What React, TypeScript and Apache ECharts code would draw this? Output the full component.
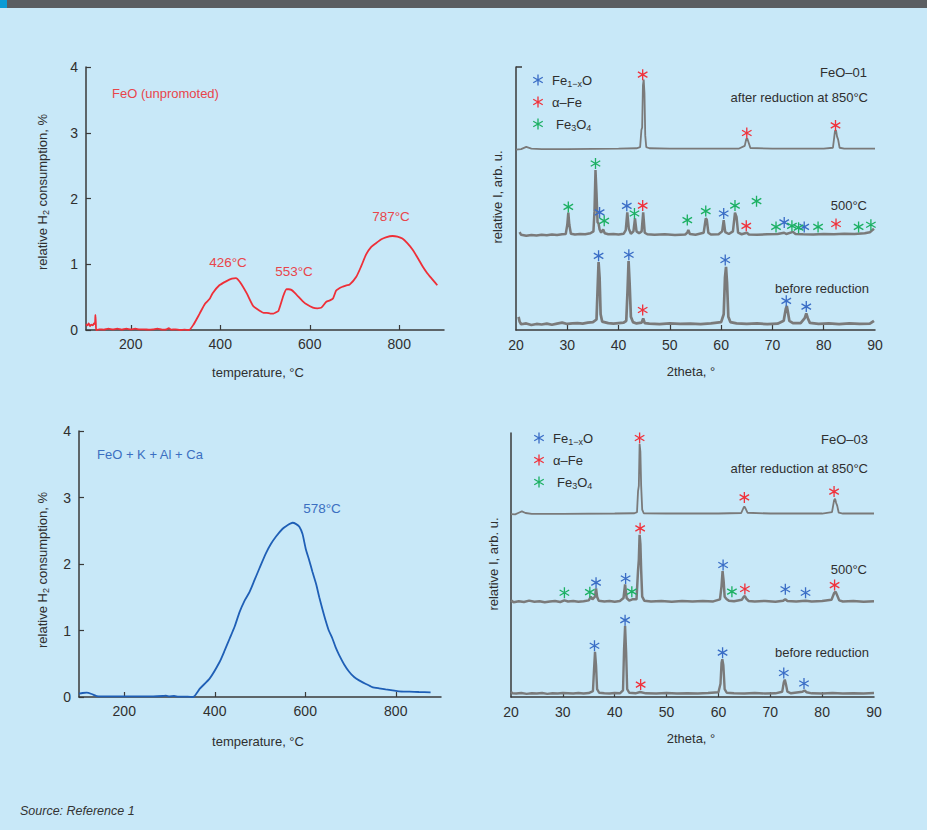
import React, { useEffect, useRef } from "react";
import * as echarts from "echarts";

// ---------- data ----------
const tprTicksX = [200, 400, 600, 800];
const xrdTicksX = [30, 40, 50, 60, 70, 80];

// TPR, relative H2 consumption (%), unpromoted FeO
const tprUnpromoted: [number, number][] = [
  [100, 0.09], [103, 0.07], [106, 0.1], [109, 0.06], [112, 0.08], [115, 0.07], [118, 0.1], [120, 0.09],
  [121, 0.23], [122, 0.1], [123, 0.0], [130, 0.01], [140, 0.005], [150, 0.02], [160, 0.01], [170, 0.02],
  [180, 0.005], [190, 0.02], [200, 0.01], [210, 0.02], [220, 0.01], [230, 0.01], [240, 0.005], [250, 0.01],
  [260, 0.02], [270, 0.005], [280, 0.01], [285, 0.03], [290, 0.005], [300, 0.01], [310, 0.0], [320, 0.005],
  [330, 0.0], [340, 0.08], [354, 0.25], [366, 0.4], [376, 0.47], [383, 0.56], [398, 0.68], [413, 0.74],
  [426, 0.78], [435, 0.79], [444, 0.73], [459, 0.56], [474, 0.36], [489, 0.29], [497, 0.26], [504, 0.26],
  [512, 0.25], [519, 0.25], [525, 0.27], [530, 0.29], [541, 0.52], [548, 0.62], [553, 0.62], [559, 0.61],
  [566, 0.57], [574, 0.51], [584, 0.44], [593, 0.39], [607, 0.34], [617, 0.33], [626, 0.34], [637, 0.43],
  [645, 0.45], [652, 0.48], [659, 0.6], [667, 0.64], [674, 0.66], [682, 0.68], [689, 0.69], [704, 0.81],
  [715, 0.97], [726, 1.15], [737, 1.26], [748, 1.32], [760, 1.38], [770, 1.41], [785, 1.43], [796, 1.42],
  [807, 1.39], [818, 1.32], [830, 1.22], [841, 1.1], [852, 0.97], [863, 0.86], [874, 0.77], [885, 0.68],
];

// TPR, FeO + K + Al + Ca
const tprPromoted: [number, number][] = [
  [100, 0.05], [108, 0.06], [117, 0.065], [128, 0.045], [139, 0.015], [150, 0.01], [190, 0.01], [230, 0.01],
  [264, 0.01], [285, 0.015], [292, 0.02], [300, 0.01], [310, 0.015], [320, 0.005], [340, 0.005], [352, 0.0],
  [367, 0.125], [389, 0.28], [411, 0.53], [422, 0.7], [433, 0.88], [444, 1.06], [455, 1.28], [466, 1.45],
  [477, 1.58], [488, 1.76], [499, 1.94], [513, 2.16], [524, 2.3], [535, 2.41], [550, 2.53], [560, 2.58],
  [572, 2.62], [580, 2.6], [587, 2.56], [594, 2.45], [601, 2.23], [609, 2.05], [616, 1.88], [624, 1.7],
  [631, 1.5], [638, 1.32], [645, 1.15], [652, 1.0], [660, 0.88], [667, 0.75], [675, 0.63], [686, 0.49],
  [697, 0.38], [708, 0.3], [719, 0.25], [733, 0.2], [748, 0.15], [763, 0.13], [778, 0.115], [793, 0.1],
  [807, 0.085], [830, 0.08], [851, 0.075], [877, 0.07],
];

// XRD FeO-01 (arbitrary units, traces stacked)
const xrd01After: [number, number][] = [
  [20, 68.6], [21, 68.8], [22, 69.6], [23, 69.0], [25, 68.8], [30, 68.8], [35, 68.9], [40, 69.0], [43.5, 69.1],
  [44.2, 69.5], [44.45, 76], [44.6, 77], [44.75, 93], [44.9, 95.2], [45.05, 90], [45.2, 74], [45.4, 69.5],
  [46, 69.1], [50, 69], [55, 69], [60, 69], [63.5, 69], [64.6, 70], [64.9, 72.6], [65.1, 72.8], [65.4, 71],
  [65.7, 69.2], [70, 69], [75, 69], [80, 69], [81.8, 69.3], [82.2, 75.7], [82.4, 75.9], [82.6, 73.5],
  [82.8, 72.5], [83.1, 69.3], [84, 69], [90, 69],
];
const xrd01At500: [number, number][] = [
  [20.7, 37.2], [21, 36.2], [22, 35.8], [23, 36.1], [24, 35.9], [25, 36.2], [26, 36.0], [27, 36.3], [28, 36.1],
  [29, 36.4], [29.7, 36.5], [30.0, 40], [30.2, 44.6], [30.4, 40], [30.7, 36.6], [31.5, 36.3], [32.5, 36.5],
  [33.5, 36.4], [34.5, 36.8], [35.1, 37.5], [35.3, 45], [35.5, 60.8], [35.7, 52], [35.9, 41], [36.1, 40.5],
  [36.3, 38.2], [36.6, 37], [37.0, 38.2], [37.3, 36.8], [38, 36.4], [39, 36.5], [40, 36.3], [41, 36.6],
  [41.4, 38], [41.7, 44.7], [42.0, 38.5], [42.4, 36.6], [42.9, 37.5], [43.2, 42.4], [43.5, 37.5], [44.0, 36.8],
  [44.5, 37.5], [44.8, 44.7], [45.1, 37], [45.6, 36.4], [47, 36.2], [49, 36.4], [51, 36.1], [53, 36.3],
  [53.4, 37], [53.6, 38], [53.9, 36.5], [55, 36.2], [56.6, 37], [57.0, 42.4], [57.2, 42], [57.5, 37],
  [58, 36.3], [59.5, 36.4], [60.2, 37.5], [60.5, 41.8], [60.8, 37.2], [61.5, 36.5], [62.3, 37.5], [62.7, 44.6],
  [63.0, 43], [63.3, 37], [64, 36.4], [65, 37], [65.4, 36.3], [67, 36.2], [69, 36.4], [71, 36.5], [72.3, 37],
  [72.7, 36.5], [74.0, 37.3], [74.5, 36.5], [76, 36.4], [78, 36.3], [80, 36.5], [82, 36.4], [84, 36.6],
  [86, 36.5], [88, 36.8], [89, 37.2], [89.5, 38], [89.8, 38.5],
];
const xrd01Before: [number, number][] = [
  [20.5, 5], [20.7, 3.2], [21, 2.2], [22, 2.5], [23, 1.9], [24, 2.3], [25, 2.1], [26, 2.4], [27, 2.0], [28, 2.4],
  [29, 2.8], [30, 2.3], [31, 2.5], [32, 2.6], [33, 2.4], [34, 2.8], [35, 3], [35.7, 4], [35.9, 15], [36.1, 25.8],
  [36.3, 20], [36.5, 6], [36.8, 3.2], [38, 2.6], [39, 2.4], [40, 2.6], [41, 2.8], [41.5, 3.5], [41.75, 15],
  [41.95, 26.2], [42.15, 18], [42.4, 5], [42.8, 3], [43.5, 2.5], [44.5, 2.8], [44.8, 4.4], [45.1, 2.6], [46, 2.4],
  [48, 2.2], [50, 2.5], [52, 2.3], [54, 2.4], [56, 2.2], [58, 2.5], [60, 3], [60.5, 6], [60.75, 20], [60.95, 24],
  [61.15, 18], [61.4, 5], [61.8, 3], [63, 2.5], [65, 2.3], [67, 2.5], [69, 2.2], [71, 2.4], [72.2, 3.5],
  [72.6, 8], [72.8, 9.1], [73.0, 7], [73.3, 3.5], [74, 2.6], [75.5, 2.6], [76.3, 4.5], [76.6, 6.3], [76.9, 4.5],
  [77.3, 2.7], [79, 2.3], [81, 2.5], [83, 2.2], [85, 2.5], [87, 2.3], [89, 2.4], [89.8, 3.5],
];

// XRD FeO-03
const xrd03After: [number, number][] = [
  [20, 69.3], [20.8, 69.2], [21.5, 69.8], [22.1, 70.3], [22.8, 69.7], [24, 69.4], [30, 69.4], [40, 69.5],
  [43.8, 69.6], [44.3, 70], [44.5, 78], [44.65, 80], [44.8, 95.8], [44.95, 93], [45.1, 80], [45.3, 71],
  [45.6, 69.6], [50, 69.5], [60, 69.5], [64.4, 69.7], [64.8, 71.5], [65.0, 72.2], [65.2, 71.5], [65.6, 69.8],
  [70, 69.5], [80, 69.5], [81.9, 70], [82.3, 74.5], [82.5, 75.1], [82.7, 73.5], [82.9, 72.5], [83.2, 69.8],
  [84, 69.5], [90, 69.5],
];
const xrd03At500: [number, number][] = [
  [20, 36.6], [20.5, 35.9], [21.5, 36.3], [22.5, 36.0], [23.5, 36.5], [24.5, 36.1], [25.5, 36.3], [26.5, 35.9],
  [27.5, 36.2], [28.5, 36.4], [29.5, 36.0], [30.3, 36.6], [31, 36.2], [32, 36.4], [33, 36.1], [34, 36.3],
  [35, 36.6], [35.4, 38], [35.7, 37], [36.2, 38], [36.4, 41.1], [36.6, 38], [36.9, 36.5], [38, 36.2], [39, 36.4],
  [40, 36.1], [41, 36.4], [41.7, 37.5], [42.0, 42.7], [42.3, 37.5], [42.8, 36.5], [43.4, 37], [44.2, 37],
  [44.5, 48], [44.65, 52], [44.8, 61.4], [44.95, 58], [45.1, 48], [45.3, 38], [45.7, 36.5], [47, 36.2],
  [49, 36.4], [51, 36.1], [53, 36.4], [55, 36.2], [57, 36.4], [59, 36.2], [60.3, 37], [60.6, 42], [60.8, 47.7],
  [61.0, 44], [61.2, 38], [61.6, 37], [62, 36.5], [63, 36.3], [64.5, 36.8], [64.9, 38], [65.1, 38.2],
  [65.4, 37.2], [65.8, 36.4], [67, 36.2], [69, 36.4], [71, 36.1], [72.5, 36.5], [72.9, 37], [73.3, 36.4],
  [75, 36.2], [76.8, 36.5], [78, 36.2], [80, 36.4], [81.8, 36.8], [82.3, 39.3], [82.6, 39.9], [82.9, 38.5],
  [83.3, 36.6], [84, 36.2], [86, 36.4], [88, 36.1], [90, 36.3],
];
const xrd03Before: [number, number][] = [
  [20, 2], [20.3, 1.4], [21, 1.3], [22, 1.5], [23, 1.2], [24, 1.4], [25, 1.3], [26, 1.5], [27, 1.2], [28, 1.4],
  [29, 1.3], [30, 1.5], [31, 1.4], [32, 1.3], [33, 1.5], [34, 1.3], [35, 1.5], [35.8, 2.2], [36.0, 10],
  [36.2, 17.1], [36.4, 12], [36.6, 3], [37, 1.6], [38, 1.4], [39, 1.3], [40, 1.5], [41, 1.4], [41.6, 2.5],
  [41.8, 18], [42.0, 27], [42.2, 17], [42.4, 3], [42.8, 1.6], [44, 1.4], [44.9, 1.9], [46, 1.4], [48, 1.3],
  [50, 1.5], [52, 1.3], [54, 1.4], [56, 1.3], [58, 1.5], [60, 1.8], [60.4, 5], [60.6, 13], [60.75, 14.3],
  [60.95, 12], [61.2, 3], [61.6, 1.6], [63, 1.4], [65, 1.3], [67, 1.5], [69, 1.3], [71, 1.4], [72.3, 2],
  [72.6, 5.5], [72.8, 6.6], [73.0, 5], [73.3, 2], [74, 1.4], [76.2, 2], [76.6, 2.5], [77, 1.8], [78, 1.4],
  [80, 1.3], [82, 1.5], [84, 1.3], [86, 1.4], [88, 1.3], [90, 1.5],
];

// phase markers (2theta, position above peak)
const m01Fe1xO: [number, number][] = [
  [36.3, 44.7], [41.6, 47.2], [60.5, 44.3], [72.3, 40.9], [76.2, 39.2],
  [36.1, 28.2], [42.0, 28.6], [60.8, 26.6], [72.7, 11.1], [76.6, 8.9],
];
const m01AlphaFe: [number, number][] = [
  [44.7, 97.1], [65.0, 74.9], [82.3, 77.8], [44.7, 47.3], [64.9, 39.6], [82.4, 40.3], [44.7, 7.6],
];
const m01Fe3O4: [number, number][] = [
  [30.2, 46.8], [35.5, 63.3], [37.2, 41.5], [43.1, 44.3], [53.4, 41.8], [57.0, 45.2], [62.7, 47.3],
  [66.9, 49.0], [70.7, 39.2], [73.8, 39.6], [75.1, 38.9], [78.9, 39.2], [86.8, 39.2], [89.2, 40.0],
];
const m03Fe1xO: [number, number][] = [
  [36.4, 43.3], [42.1, 44.9], [60.9, 50], [72.9, 40.8], [76.8, 39.5],
  [36.1, 19.4], [42.0, 29.1], [60.8, 16.8], [72.6, 9.1], [76.5, 5.1],
];
const m03AlphaFe: [number, number][] = [
  [44.8, 98.1], [65.0, 75.6], [82.3, 77.8], [44.9, 63.9], [65.1, 40.9], [82.4, 42.4], [45.0, 4.7],
];
const m03Fe3O4: [number, number][] = [[30.3, 39.5], [35.2, 39.7], [43.3, 39.9], [62.6, 39.9]];

// ---------- styles ----------
const FONT = "'Liberation Sans', Arial, sans-serif";
const AXIS = "#3a3a3a";
const TXT = "#2f2f2f";
const RED = "#ee2f38";
const RED_T = "#e8454b";
const BLUE = "#1f5fb6";
const BLUE_T = "#3b6fc1";
const AST_BLUE = "#3a6dc6";
const AST_RED = "#f0323c";
const AST_GREEN = "#1cb063";
const GRAY = "#7a7a7a";

const AST_D =
  "M8.8 0L11.2 0L11.2 20L8.8 20Z M0.74 6.04L1.94 3.96L19.26 13.96L18.06 16.04Z M18.06 3.96L19.26 6.04L1.94 16.04L0.74 13.96Z";
echarts.graphic.registerShape("asterisk", echarts.graphic.extendPath(AST_D, {}) as any);

function tprXAxis(grid: number) {
  return {
    gridIndex: grid, type: "value", min: 100, max: 900,
    axisLine: { show: true, onZero: false, lineStyle: { color: AXIS, width: 1.5 } },
    axisTick: { show: true, inside: true, length: 5, customValues: tprTicksX, lineStyle: { color: AXIS, width: 1.2 } },
    axisLabel: { customValues: tprTicksX, color: TXT, fontSize: 14, margin: 7, fontFamily: FONT },
    splitLine: { show: false },
  };
}
function tprYAxis(grid: number) {
  return {
    gridIndex: grid, type: "value", min: 0, max: 4, interval: 1,
    axisLine: { show: true, onZero: false, lineStyle: { color: AXIS, width: 1.5 } },
    axisTick: { show: true, inside: true, length: 5, lineStyle: { color: AXIS, width: 1.2 } },
    axisLabel: { color: TXT, fontSize: 14, margin: 8, fontFamily: FONT },
    splitLine: { show: false },
  };
}
function xrdXAxis(grid: number) {
  return {
    gridIndex: grid, type: "value", min: 20, max: 90, interval: 10,
    axisLine: { show: true, onZero: false, lineStyle: { color: AXIS, width: 1.5 } },
    axisTick: { show: true, inside: true, length: 5, customValues: xrdTicksX, lineStyle: { color: AXIS, width: 1.2 } },
    axisLabel: { color: TXT, fontSize: 14, margin: 8, fontFamily: FONT },
    splitLine: { show: false },
  };
}
function xrdYAxis(grid: number, topTick: boolean) {
  return {
    gridIndex: grid, type: "value", min: 0, max: 100,
    axisLine: { show: true, onZero: false, lineStyle: { color: AXIS, width: 1.5 } },
    axisTick: { show: topTick, inside: true, length: 6, customValues: [100], lineStyle: { color: AXIS, width: 1.5 } },
    axisLabel: { show: false },
    splitLine: { show: false },
  };
}

function trace(idx: number, data: [number, number][], width: number) {
  return {
    type: "line", xAxisIndex: idx, yAxisIndex: idx, data, showSymbol: false, symbol: "none",
    lineStyle: { color: GRAY, width }, silent: true, z: 2,
  };
}
function stars(idx: number, data: [number, number][], color: string) {
  return {
    type: "scatter", xAxisIndex: idx, yAxisIndex: idx, data, symbol: "path://" + AST_D,
    symbolSize: 11, symbolKeepAspect: true, itemStyle: { color, opacity: 1 }, silent: true, z: 5,
  };
}

function txt(x: number, y: number, text: string, opts: any = {}) {
  return {
    type: "text", x, y, silent: true,
    style: {
      text, fill: opts.fill || TXT, fontSize: opts.fontSize || 13, fontFamily: FONT,
      fontStyle: opts.fontStyle || "normal",
      align: opts.align || "center", verticalAlign: "middle",
      rich: opts.rich, lineHeight: opts.lineHeight,
    },
    rotation: opts.rotation || 0,
  };
}
const subRich = {
  m: { fontSize: 13, lineHeight: 16, fill: TXT, fontFamily: FONT, verticalAlign: "middle" },
  s: { fontSize: 9, lineHeight: 7, fill: TXT, fontFamily: FONT, verticalAlign: "bottom" },
};
function star(cx: number, cy: number, color: string) {
  return { type: "asterisk", x: cx - 5.5, y: cy - 5.5, scaleX: 0.55, scaleY: 0.55, silent: true, style: { fill: color } };
}
function legend(x: number, y0: number) {
  return [
    star(x, y0, AST_BLUE),
    star(x, y0 + 22, AST_RED),
    star(x, y0 + 44, AST_GREEN),
    txt(x + 14, y0, "{m|Fe}{s|1−x}{m|O}", { align: "left", rich: subRich }),
    txt(x + 14, y0 + 22, "{m|α–Fe}", { align: "left", rich: subRich }),
    txt(x + 18, y0 + 44, "{m|Fe}{s|3}{m|O}{s|4}", { align: "left", rich: subRich }),
  ];
}

export default function App() {
  const ref = useRef<HTMLDivElement>(null);
  useEffect(() => {
    if (!ref.current) return;
    const chart = echarts.init(ref.current, null, { renderer: "svg" });
    const option: any = {
      animation: false,
      backgroundColor: "#c8e8f8",
      grid: [
        { left: 86, top: 67, width: 358, height: 263 },
        { left: 79, top: 431, width: 362, height: 266 },
        { left: 516, top: 67, width: 359, height: 263 },
        { left: 511, top: 433, width: 363, height: 264 },
      ],
      xAxis: [tprXAxis(0), tprXAxis(1), xrdXAxis(2), xrdXAxis(3)],
      yAxis: [tprYAxis(0), tprYAxis(1), xrdYAxis(2, true), xrdYAxis(3, false)],
      series: [
        {
          type: "line", xAxisIndex: 0, yAxisIndex: 0, data: tprUnpromoted, showSymbol: false, symbol: "none",
          smooth: 0.2, lineStyle: { color: RED, width: 1.8 }, silent: true,
        },
        {
          type: "line", xAxisIndex: 1, yAxisIndex: 1, data: tprPromoted, showSymbol: false, symbol: "none",
          smooth: 0.2, lineStyle: { color: BLUE, width: 1.8 }, silent: true,
        },
        trace(2, xrd01After, 1.8), trace(2, xrd01At500, 2.5), trace(2, xrd01Before, 2.7),
        trace(3, xrd03After, 1.8), trace(3, xrd03At500, 2.5), trace(3, xrd03Before, 2.4),
        stars(2, m01Fe1xO, AST_BLUE), stars(2, m01AlphaFe, AST_RED), stars(2, m01Fe3O4, AST_GREEN),
        stars(3, m03Fe1xO, AST_BLUE), stars(3, m03AlphaFe, AST_RED), stars(3, m03Fe3O4, AST_GREEN),
      ],
      graphic: [
        { type: "rect", shape: { x: 0, y: 0, width: 927, height: 8 }, style: { fill: "#5b5e62" }, silent: true },
        { type: "rect", shape: { x: 0, y: 0, width: 7, height: 8 }, style: { fill: "#0b9bd5" }, silent: true },
        // TPR unpromoted
        txt(112, 93, "FeO (unpromoted)", { align: "left", fill: RED_T }),
        txt(228, 262, "426°C", { fill: RED_T, fontSize: 13.5 }),
        txt(294, 271, "553°C", { fill: RED_T, fontSize: 13.5 }),
        txt(391, 216, "787°C", { fill: RED_T, fontSize: 13.5 }),
        txt(42, 192, "{m|relative H}{s|2}{m| consumption, %}", { rich: subRich, rotation: Math.PI / 2 }),
        txt(258, 372, "temperature, °C"),
        // TPR promoted
        txt(97, 454, "FeO + K + Al + Ca", { align: "left", fill: BLUE_T }),
        txt(322, 508, "578°C", { fill: BLUE_T, fontSize: 13.5 }),
        txt(42, 570, "{m|relative H}{s|2}{m| consumption, %}", { rich: subRich, rotation: Math.PI / 2 }),
        txt(258, 741, "temperature, °C"),
        // XRD FeO-01
        txt(867, 72, "FeO–01", { align: "right" }),
        txt(868, 97, "after reduction at 850°C", { align: "right" }),
        txt(867, 205, "500°C", { align: "right" }),
        txt(869, 288, "before reduction", { align: "right" }),
        ...legend(538, 80),
        txt(497, 197, "relative I, arb. u.", { rotation: Math.PI / 2 }),
        txt(691, 371, "2theta, °"),
        // XRD FeO-03
        txt(868, 439, "FeO–03", { align: "right" }),
        txt(868, 468, "after reduction at 850°C", { align: "right" }),
        txt(867, 569, "500°C", { align: "right" }),
        txt(869, 652, "before reduction", { align: "right" }),
        ...legend(539, 438),
        txt(493, 564, "relative I, arb. u.", { rotation: Math.PI / 2 }),
        txt(691, 738, "2theta, °"),
        // source
        txt(20, 811, "Source: Reference 1", { align: "left", fontStyle: "italic", fontSize: 12.5, fill: "#333" }),
      ],
    };
    chart.setOption(option);
    return () => chart.dispose();
  }, []);
  return (
    <div
      ref={ref}
      style={{ position: "fixed", left: 0, top: 0, width: 927, height: 830, background: "#c8e8f8" }}
    />
  );
}
